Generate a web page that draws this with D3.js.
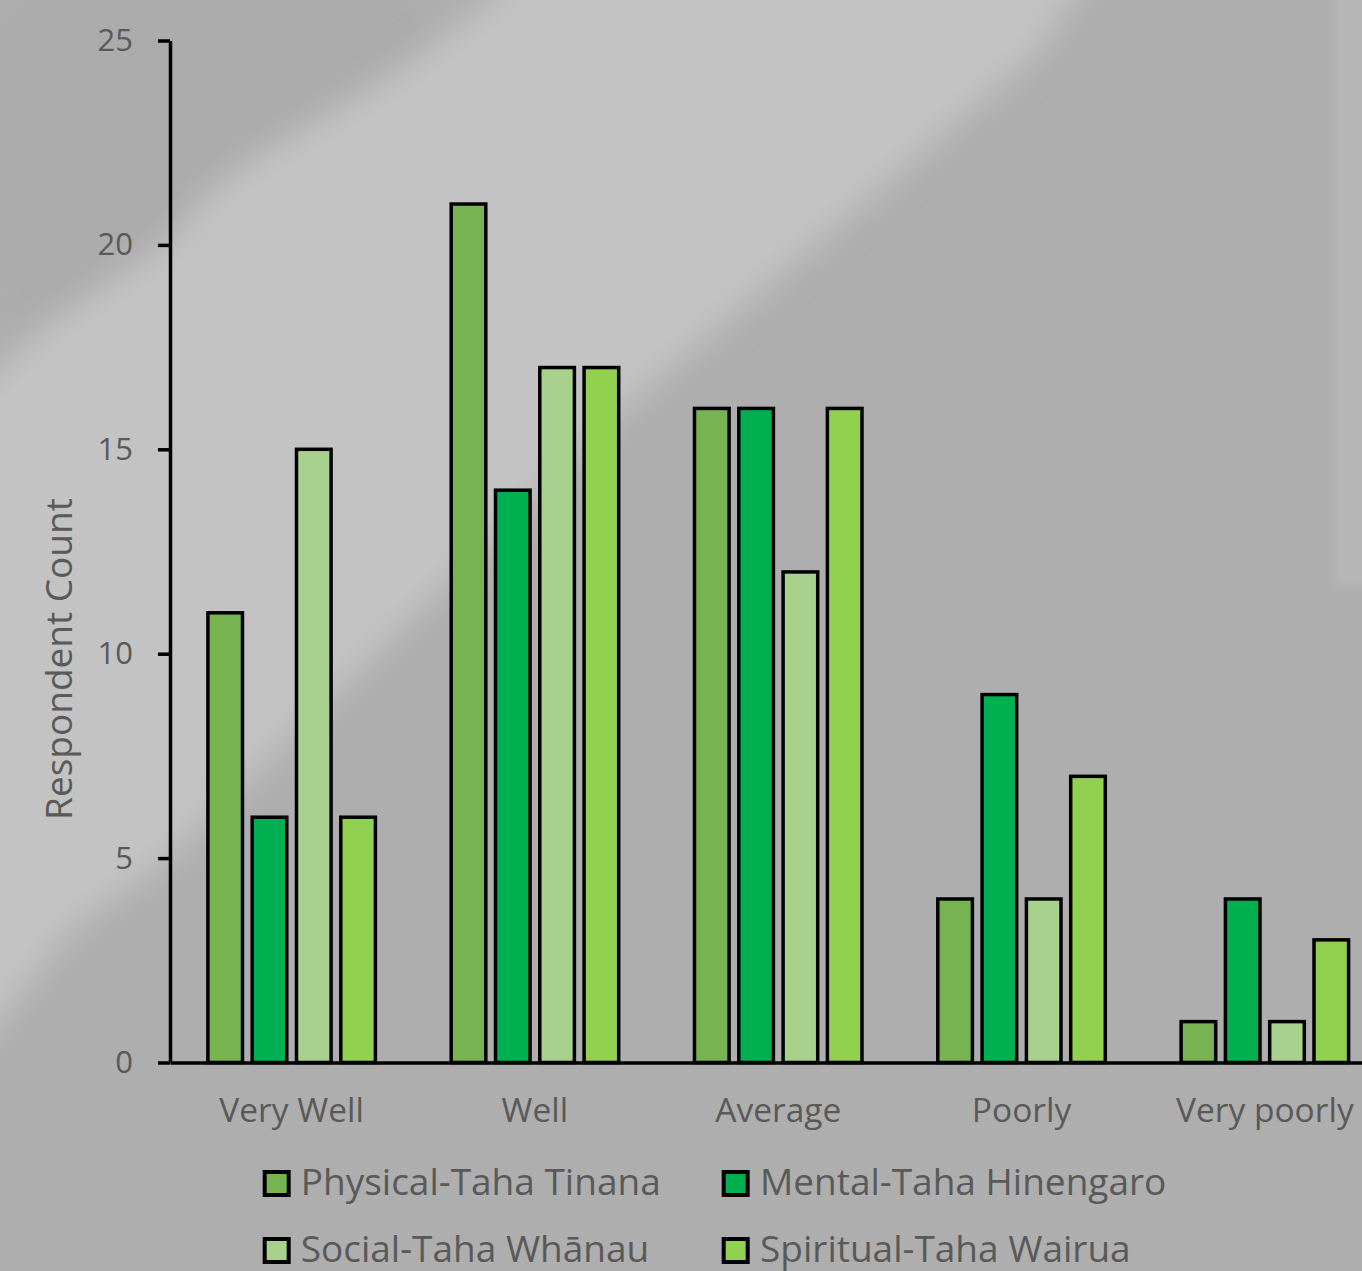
<!DOCTYPE html>
<html><head><meta charset="utf-8">
<script src="https://cdn.jsdelivr.net/npm/d3@7"></script>
<style>html,body{margin:0;padding:0;background:#aeaeae;overflow:hidden}</style>
</head><body>
<svg id="chart" width="1362" height="1271"></svg>
<script>
const categories = ["Very Well", "Well", "Average", "Poorly", "Very poorly"];
const seriesNames = ["Physical-Taha Tinana", "Mental-Taha Hinengaro", "Social-Taha Whānau", "Spiritual-Taha Wairua"];
const physical  = [11, 21, 16, 4, 1];
const mental    = [6, 14, 16, 9, 4];
const social    = [15, 17, 12, 4, 1];
const spiritual = [6, 17, 16, 7, 3];
const seriesColors = ["#77b350", "#00b050", "#a9d18e", "#92d050"];
const yTicks = [0, 5, 10, 15, 20, 25];
const yTitle = "Respondent Count";

const seriesValues = [physical, mental, social, spiritual];
const W = 1362, H = 1271;
const FONT = "'Open Sans', 'Noto Sans', sans-serif";
const TEXT = "#595959";

const svg = d3.select("#chart");

// Background with soft diagonal light band
const defs = svg.append("defs");
const blur = defs.append("filter").attr("id", "blur")
  .attr("x", "-20%").attr("y", "-20%").attr("width", "140%").attr("height", "140%");
blur.append("feGaussianBlur").attr("stdDeviation", 16);
const blur2 = defs.append("filter").attr("id", "blur2")
  .attr("x", "-50%").attr("y", "-20%").attr("width", "200%").attr("height", "140%");
blur2.append("feGaussianBlur").attr("stdDeviation", 5);

svg.append("rect").attr("width", W).attr("height", H).attr("fill", "#aeaeae");
svg.append("rect").attr("x", 0).attr("y", 0).attr("width", 430).attr("height", 330)
  .attr("fill", "#ababab").attr("filter", "url(#blur)");
const bandPts = [
  [560,-80],[493,0],[412,60],[350,100],[250,160],[200,200],[170,240],[110,280],[40,330],[0,370],[-80,430],
  [-80,1090],[0,1020],[70,930],[167,860],[400,630],[633,400],[750,300],[867,200],[1040,50],[1120,-80]
];
svg.append("polygon")
  .attr("points", bandPts.map(p => p.join(",")).join(" "))
  .attr("fill", "#c3c3c3").attr("filter", "url(#blur)");
svg.append("rect").attr("x", 1334).attr("y", -20).attr("width", 60).attr("height", 605)
  .attr("fill", "#b7b7b7").attr("filter", "url(#blur2)");

// Scales
const y = d3.scaleLinear().domain([0, 25]).range([1062.5, 40.5]);
const x = d3.scaleBand().domain(categories).range([170, 170 + 5 * 243.3]).padding(0);
const groupHalf = 85.5;
const xi = d3.scaleBand().domain(seriesNames).range([-groupHalf, groupHalf]).paddingInner(0.14).paddingOuter(0);

const SW = 3.5;

// Bars
seriesNames.forEach((s, si) => {
  svg.append("g").selectAll("rect")
    .data(categories.map((c, ci) => ({ c, v: seriesValues[si][ci] })))
    .join("rect")
    .attr("x", d => x(d.c) + x.bandwidth() / 2 + xi(s) + SW / 2)
    .attr("width", xi.bandwidth() - SW)
    .attr("y", d => y(d.v))
    .attr("height", d => y(0) - y(d.v))
    .attr("fill", seriesColors[si])
    .attr("stroke", "#000")
    .attr("stroke-width", SW);
});

// X axis
const gx = svg.append("g").attr("transform", `translate(0,${y(0)})`)
  .call(d3.axisBottom(x).tickSize(0).tickSizeOuter(0));
gx.select(".domain").attr("stroke", "#000").attr("stroke-width", SW);
gx.selectAll("text")
  .attr("y", 59).attr("dy", null)
  .attr("fill", TEXT).style("font-family", FONT).style("font-size", "33.5px");

// Y axis
const gy = svg.append("g").attr("transform", "translate(170,0)")
  .call(d3.axisLeft(y).tickValues(yTicks).tickSize(12).tickSizeOuter(0).tickPadding(25));
gy.select(".domain").attr("stroke", "#000").attr("stroke-width", SW);
gy.selectAll(".tick line").attr("stroke", "#000").attr("stroke-width", SW);
gy.selectAll("text")
  .attr("fill", TEXT).style("font-family", FONT).style("font-size", "31px");

// Y title
svg.append("text")
  .attr("transform", "translate(72,659) rotate(-90)")
  .attr("text-anchor", "middle")
  .attr("fill", TEXT).style("font-family", FONT).style("font-size", "37px")
  .text(yTitle);

// Legend
const legendPos = [
  { x: 264.7, y: 1172, tx: 300.7, ty: 1195 },
  { x: 723.7, y: 1172, tx: 760, ty: 1195 },
  { x: 264.7, y: 1239, tx: 300.7, ty: 1261.5 },
  { x: 723.7, y: 1239, tx: 760, ty: 1261.5 }
];
const lg = svg.append("g");
seriesNames.forEach((s, i) => {
  const p = legendPos[i];
  lg.append("rect").attr("x", p.x).attr("y", p.y).attr("width", 24).attr("height", 23)
    .attr("fill", seriesColors[i]).attr("stroke", "#000").attr("stroke-width", 4);
  lg.append("text").attr("x", p.tx).attr("y", p.ty)
    .attr("fill", TEXT).style("font-family", FONT).style("font-size", "37px")
    .text(s);
});
</script>
</body></html>
